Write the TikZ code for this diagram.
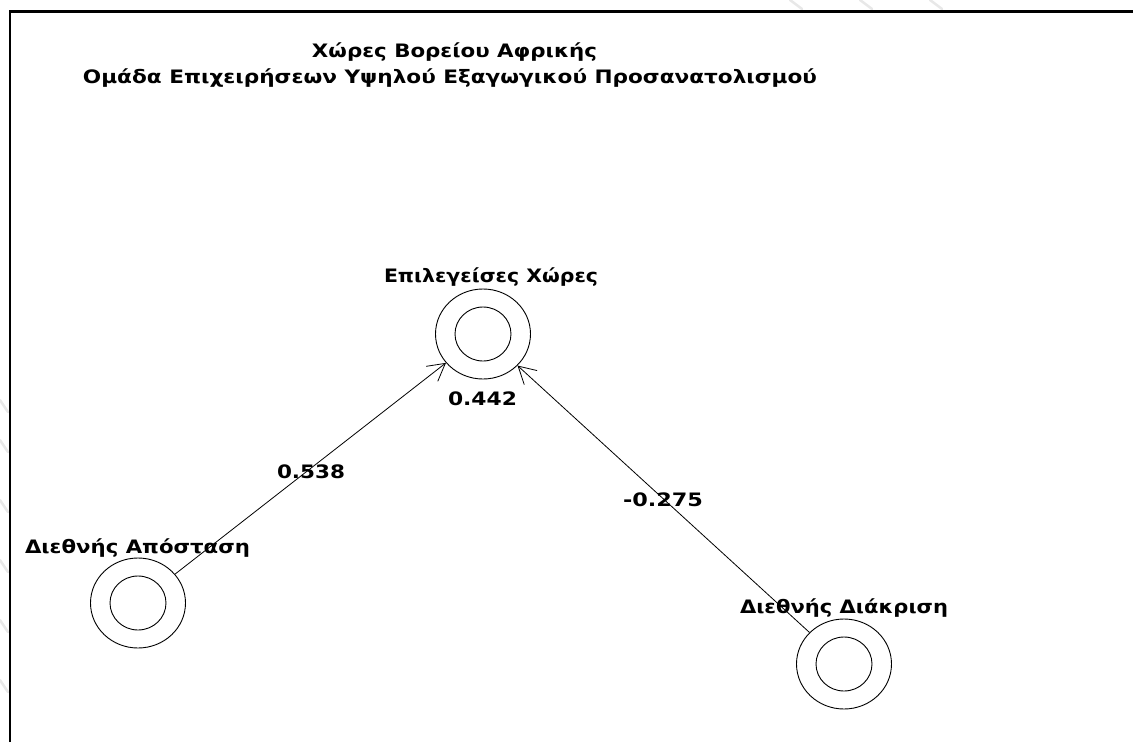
\documentclass[tikz,border=0pt]{standalone}
\usepackage{fontspec}
\setmainfont{DejaVu Sans}
\usetikzlibrary{arrows.meta,shapes.geometric}
% set a text box to a given width, keeping its natural height
\newcommand\fitto[2]{\resizebox{#1pt}{\height}{#2}}

\begin{document}
\begin{tikzpicture}[x=1pt,y=-1pt,
  lbl/.style={inner sep=0pt, anchor=base, font=\fontsize{18.5}{22}\bfseries\selectfont},
  factor/.style={ellipse, draw, line width=0.9pt, minimum width=95pt, minimum height=90pt,
    inner sep=0pt,
    path picture={\draw[line width=0.9pt] (path picture bounding box.center)
      ellipse [x radius=28pt, y radius=27pt];}},
  link/.style={line width=0.8pt,
    -{Straight Barb[length=17pt,width=19pt,line width=0.8pt]}},
  ghost/.style={line width=2.5pt, gray!18, line cap=round}]

\useasboundingbox (0,0) rectangle (1133,742);

% faint marks along the outer edges
\foreach \x in {790,860,930} \draw[ghost] (\x,0) -- (\x+12,9);
\foreach \y in {400,440,500,560,620,680} \draw[ghost] (0,\y) -- (8,\y+12);

% frame
\draw[line width=2.5pt] (10,742) -- (10,11.3) -- (1133,11.3);

% title
\node[lbl] (t1) at (454.5,57) {\fitto{285}{Χώρες Βορείου Αφρικής}};
\node[lbl] (t2) at (450,83) {\fitto{734}{Ομάδα Επιχειρήσεων Υψηλού Εξαγωγικού Προσανατολισμού}};

% factors
\node[factor] (sel)  at (483,334) {};
\node[factor] (dist) at (138,603) {};
\node[factor] (disc) at (844,664) {};

\node[lbl] (selL)  at (491,282)   {\fitto{214}{Επιλεγείσες Χώρες}};
\node[lbl] (distL) at (137.5,553) {\fitto{225}{Διεθνής Απόσταση}};
\node[lbl] (discL) at (844,613)   {\fitto{208}{Διεθνής Διάκριση}};
\node[lbl] (r2)    at (482.5,405) {\fitto{69}{0.442}};

% paths
\draw[link] (dist) -- (sel);
\draw[link] (disc) -- (sel);

\node[lbl] (b1) at (311,478) {\fitto{68}{0.538}};
\node[lbl] (b2) at (663,506) {\fitto{80}{-0.275}};

\end{tikzpicture}
\end{document}
